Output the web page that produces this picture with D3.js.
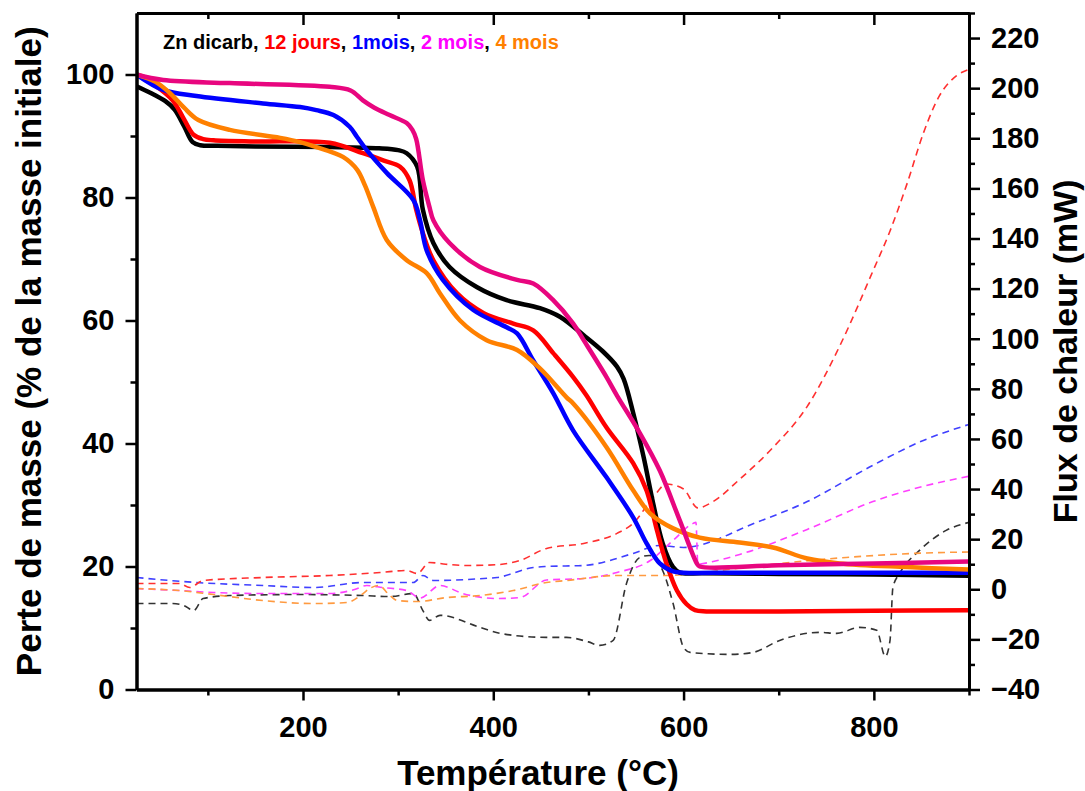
<!DOCTYPE html>
<html><head><meta charset="utf-8">
<script src="https://cdn.jsdelivr.net/npm/d3@7"></script>
<style>
body{margin:0;background:#fff}
svg{display:block}
text{font-family:"Liberation Sans",Arial,sans-serif;font-weight:bold}
</style>
</head><body>
<svg id="c" width="1085" height="791"></svg>
<script>
// ---------- Axis ticks ----------
const xMajorTicks = [200, 400, 600, 800];
const xMinorTicks = [100, 300, 500, 700, 900];
const yLeftMajor = [0, 20, 40, 60, 80, 100];
const yLeftMinor = [10, 30, 50, 70, 90];
const yRightMajor = [-40, -20, 0, 20, 40, 60, 80, 100, 120, 140, 160, 180, 200, 220];
const yRightMinor = [-30, -10, 10, 30, 50, 70, 90, 110, 130, 150, 170, 190, 210, 230];

// ---------- Legend ----------
const seriesNames = ["Zn dicarb", "12 jours", "1mois", "2 mois", "4 mois"];
const legendColors = ["#000000", "#ff0000", "#0000ff", "#ff00ff", "#ff8000"];

// ---------- TG curves (mass loss, % of initial mass) ----------
const tgT_zn  = [25, 40, 55, 65, 75, 84, 92, 110, 150, 228, 280, 300, 309, 320, 326, 337, 354, 383, 414, 449, 470, 495, 515, 530, 537, 547, 558, 568, 578, 589, 596, 620, 700, 800, 900];
const tgV_zn  = [98.1, 97.0, 95.7, 94.3, 91.6, 89.0, 88.5, 88.4, 88.3, 88.2, 88.0, 87.7, 87.2, 85.0, 78.0, 72.6, 68.7, 65.4, 63.3, 62.0, 60.6, 57.6, 55.0, 52.5, 50.5, 45.0, 37.8, 30.3, 23.8, 19.9, 19.0, 18.9, 18.8, 18.7, 18.5];

const tgT_12j = [25, 45, 63, 74, 85, 95, 106, 150, 228, 263, 285, 302, 312, 319, 326, 337, 362, 390, 421, 442, 463, 484, 498, 519, 547, 561, 572, 582, 593, 603, 612, 624, 650, 700, 800, 900];
const tgV_12j = [100, 98.2, 95.8, 93.0, 90.2, 89.5, 89.3, 89.1, 88.9, 87.2, 86.0, 85.0, 82.8, 78.0, 74.2, 69.8, 64.4, 61.2, 59.5, 58.4, 54.7, 50.8, 47.8, 42.6, 36.8, 32.4, 25.9, 20.5, 16.1, 13.9, 12.9, 12.7, 12.7, 12.7, 12.8, 12.9];

const tgT_1m  = [25, 53, 88, 158, 197, 214, 232, 249, 257, 267, 288, 316, 323, 330, 347, 379, 414, 425, 442, 463, 484, 519, 547, 561, 575, 589, 600, 650, 700, 800, 900];
const tgV_1m  = [100, 97.5, 96.5, 95.3, 94.7, 94.2, 93.4, 91.5, 89.8, 87.7, 84.0, 79.6, 76.3, 71.4, 66.6, 61.7, 58.9, 57.9, 53.5, 48.2, 42.1, 34.5, 28.0, 23.8, 20.5, 19.2, 19.0, 19.0, 19.0, 19.0, 19.0];

const tgT_2m  = [25, 53, 123, 228, 250, 263, 275, 291, 309, 315, 319, 326, 333, 337, 354, 386, 425, 442, 463, 484, 495, 519, 530, 554, 575, 596, 614, 617, 700, 800, 900];
const tgV_2m  = [100, 99.1, 98.6, 98.0, 97.4, 95.8, 94.6, 93.4, 92.1, 91.0, 89.5, 82.8, 78.4, 76.3, 72.6, 68.7, 66.6, 66.0, 63.3, 59.5, 56.8, 50.8, 47.8, 41.7, 35.6, 27.5, 20.5, 20.0, 20.2, 20.5, 20.8];

const tgT_4m  = [25, 45, 60, 75, 90, 123, 176, 197, 214, 242, 257, 265, 274, 288, 309, 330, 344, 365, 393, 425, 449, 477, 484, 519, 547, 565, 589, 617, 659, 694, 730, 764, 835, 900];
const tgV_4m  = [100, 98.8, 97.0, 94.6, 92.6, 91.0, 89.7, 89.0, 88.2, 86.6, 84.5, 82.0, 78.4, 73.1, 69.8, 67.7, 64.4, 60.0, 56.8, 55.2, 52.2, 47.5, 46.5, 39.4, 32.4, 28.6, 26.2, 24.7, 23.9, 23.1, 21.3, 20.5, 19.9, 19.5];

// ---------- Heat flow curves (mW) ----------
const hfT_zn  = [25, 63, 75, 85, 95, 123, 193, 263, 291, 316, 326, 333, 344, 386, 407, 456, 477, 500, 512, 526, 540, 554, 564, 578, 589, 600, 607, 649, 673, 701, 743, 761, 785, 803, 812, 817, 820, 827, 848, 876, 900];
const hfV_zn  = [-5.7, -5.7, -6.5, -8.5, -3.7, -2.5, -2.1, -2.5, -2.9, -1.7, -8.5, -12.4, -10.4, -15.2, -17.6, -19.2, -19.2, -21.0, -22.4, -20.4, 2.3, 12.7, 13.5, 7.5, -5.7, -23.2, -25.2, -26.0, -25.2, -20.4, -17.2, -17.6, -15.2, -16.4, -26.8, -20.4, 0.7, 6.3, 15.5, 23.5, 26.7];

const hfT_12j = [25, 70, 81, 95, 158, 228, 281, 309, 320, 333, 350, 372, 404, 428, 456, 495, 530, 547, 568, 582, 600, 615, 631, 659, 694, 730, 764, 799, 817, 835, 852, 869, 887, 900];
const hfV_12j = [2.3, 2.3, 0.7, 3.5, 4.7, 5.5, 6.7, 7.5, 6.3, 10.7, 10.0, 9.5, 9.8, 11.5, 16.3, 18.3, 22.3, 26.3, 36.7, 42.0, 40.0, 32.5, 35.0, 43.9, 56.6, 73.0, 97.0, 127.0, 143.0, 162.0, 182.0, 197.0, 205.0, 207.5];

const hfT_1m  = [25, 88, 158, 211, 263, 316, 326, 337, 390, 404, 442, 456, 495, 547, 575, 600, 638, 659, 730, 799, 852, 900];
const hfV_1m  = [4.7, 2.7, 1.5, 0.7, 2.7, 2.7, 5.5, 3.5, 4.3, 4.7, 8.7, 9.1, 9.5, 14.3, 17.5, 16.7, 20.3, 23.9, 35.0, 49.5, 59.4, 65.8];

const hfT_2m  = [25, 70, 106, 158, 228, 255, 267, 284, 309, 323, 344, 368, 404, 428, 456, 495, 530, 565, 589, 610, 613, 615, 630, 659, 730, 799, 852, 900];
const hfV_2m  = [0.3, -0.5, -1.3, -1.7, -1.7, 0.0, 1.5, 0.7, -0.5, -3.5, 1.5, -1.7, -3.7, -3.3, 3.7, 4.3, 6.7, 11.5, 19.5, 26.3, 26.7, 10.0, 11.0, 13.9, 23.9, 35.0, 41.1, 45.1];

const hfT_4m  = [25, 70, 106, 158, 211, 246, 262, 270, 280, 290, 299, 320, 351, 386, 421, 456, 477, 530, 582, 617, 659, 701, 771, 841, 900];
const hfV_4m  = [0.3, -0.5, -2.1, -4.5, -5.7, -5.3, -2.0, 0.3, 1.5, -2.0, -4.5, -4.9, -3.3, -2.5, -0.5, 2.7, 3.5, 5.5, 5.5, 6.5, 8.5, 10.3, 12.7, 14.3, 14.9];

// ---------- Chart ----------
const M = {l: 136.5, r: 969, t: 13, b: 689.5};
const x  = d3.scaleLinear().domain([25, 900]).range([M.l, M.r]);
const yL = d3.scaleLinear().domain([0, 110]).range([M.b, M.t]);
const yR = d3.scaleLinear().domain([-40, 230]).range([M.b, M.t]);

const svg = d3.select("#c");
svg.append("defs").append("clipPath").attr("id", "clip")
  .append("rect").attr("x", M.l).attr("y", M.t).attr("width", M.r - M.l).attr("height", M.b - M.t);

const plot = svg.append("g").attr("clip-path", "url(#clip)");

const hf = [
  {T: hfT_zn,  V: hfV_zn,  c: "#333333"},
  {T: hfT_1m,  V: hfV_1m,  c: "#4040ff"},
  {T: hfT_2m,  V: hfV_2m,  c: "#ff40ff"},
  {T: hfT_4m,  V: hfV_4m,  c: "#ff9a40"},
  {T: hfT_12j, V: hfV_12j, c: "#ff3030"}
];
const lineR = d3.line().x(d => x(d[0])).y(d => yR(d[1])).curve(d3.curveMonotoneX);
hf.forEach(s => {
  plot.append("path").datum(d3.zip(s.T, s.V))
    .attr("d", lineR).attr("fill", "none").attr("stroke", s.c)
    .attr("stroke-width", 1.6).attr("stroke-dasharray", "7,5");
});

const tg = [
  {T: tgT_zn,  V: tgV_zn,  c: "#000000"},
  {T: tgT_12j, V: tgV_12j, c: "#ff0000"},
  {T: tgT_1m,  V: tgV_1m,  c: "#0000ff"},
  {T: tgT_4m,  V: tgV_4m,  c: "#ff8000"},
  {T: tgT_2m,  V: tgV_2m,  c: "#e8067f"}
];
const lineL = d3.line().x(d => x(d[0])).y(d => yL(d[1])).curve(d3.curveCatmullRom.alpha(0.5));
tg.forEach(s => {
  plot.append("path").datum(d3.zip(s.T, s.V))
    .attr("d", lineL).attr("fill", "none").attr("stroke", s.c)
    .attr("stroke-width", 4.5).attr("stroke-linejoin", "round");
});

// ---------- Axes ----------
function style(g, fs) {
  g.selectAll(".domain").attr("stroke", "#000").attr("stroke-width", 3);
  g.selectAll(".tick line").attr("stroke", "#000").attr("stroke-width", 2.5);
  g.selectAll(".tick text").attr("fill", "#000").style("font-size", fs + "px")
    .style("font-family", '"Liberation Sans", Arial, sans-serif').style("font-weight", "bold");
}
// bottom
svg.append("g").attr("transform", `translate(0,${M.b})`)
  .call(d3.axisBottom(x).tickValues(xMinorTicks).tickSize(6).tickSizeOuter(0).tickFormat(""))
  .call(g => style(g, 29));
svg.append("g").attr("transform", `translate(0,${M.b})`)
  .call(d3.axisBottom(x).tickValues(xMajorTicks).tickSize(11).tickSizeOuter(0).tickPadding(16))
  .call(g => style(g, 29));
// top (inward ticks)
svg.append("g").attr("transform", `translate(0,${M.t})`)
  .call(d3.axisBottom(x).tickValues(xMinorTicks).tickSize(6).tickSizeOuter(0).tickFormat(""))
  .call(g => style(g, 29));
svg.append("g").attr("transform", `translate(0,${M.t})`)
  .call(d3.axisBottom(x).tickValues(xMajorTicks).tickSize(12).tickSizeOuter(0).tickFormat(""))
  .call(g => style(g, 29));
// left
svg.append("g").attr("transform", `translate(${M.l},0)`)
  .call(d3.axisLeft(yL).tickValues(yLeftMinor).tickSize(6).tickSizeOuter(0).tickFormat(""))
  .call(g => style(g, 29));
svg.append("g").attr("transform", `translate(${M.l},0)`)
  .call(d3.axisLeft(yL).tickValues(yLeftMajor).tickSize(11).tickSizeOuter(0).tickPadding(11))
  .call(g => style(g, 29));
// right
svg.append("g").attr("transform", `translate(${M.r},0)`)
  .call(d3.axisRight(yR).tickValues(yRightMinor).tickSize(6).tickSizeOuter(0).tickFormat(""))
  .call(g => style(g, 29));
svg.append("g").attr("transform", `translate(${M.r},0)`)
  .call(d3.axisRight(yR).tickValues(yRightMajor).tickSize(11).tickSizeOuter(0).tickPadding(11))
  .call(g => style(g, 29));

// ---------- Titles ----------
svg.append("text").attr("x", 538).attr("y", 785).attr("text-anchor", "middle")
  .style("font-size", "35px").text("Température (°C)");
svg.append("text").attr("transform", `translate(41,${(M.t + M.b) / 2}) rotate(-90)`)
  .attr("text-anchor", "middle").style("font-size", "35px")
  .text("Perte de masse (% de la masse initiale)");
svg.append("text").attr("transform", `translate(1077,${(M.t + M.b) / 2}) rotate(-90)`)
  .attr("text-anchor", "middle").style("font-size", "34px")
  .text("Flux de chaleur (mW)");

// ---------- Legend ----------
const leg = svg.append("text").attr("x", 163).attr("y", 49).style("font-size", "20px");
seriesNames.forEach((n, i) => {
  leg.append("tspan").attr("fill", legendColors[i]).text(n);
  if (i < seriesNames.length - 1) leg.append("tspan").attr("fill", "#000").text(", ");
});
</script>
</body></html>
